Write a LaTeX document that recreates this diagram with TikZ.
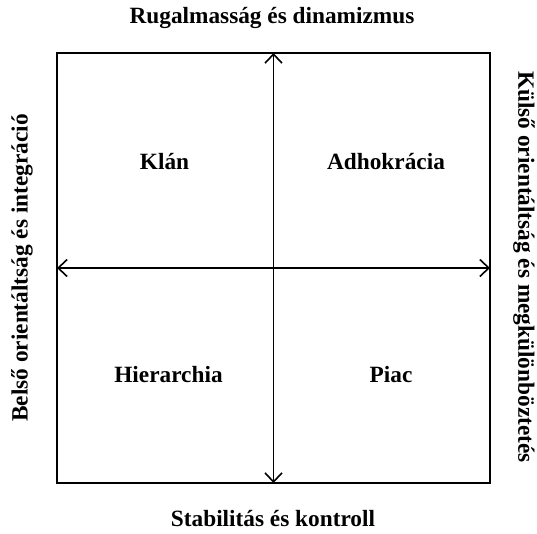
\documentclass[tikz,border=0pt]{standalone}
\usepackage{fontspec}
\setmainfont{Liberation Serif}
\usetikzlibrary{arrows.meta}
\begin{document}
\begin{tikzpicture}[x=1pt,y=-1pt,
  lbl/.style={font=\bfseries\fontsize{23.3}{28}\selectfont, inner sep=0pt},
  frame/.style={draw, line width=1.9pt, minimum width=433pt, minimum height=430pt, outer sep=0pt, inner sep=0pt},
  axis/.style={line width=1.6pt, {Straight Barb[length=9pt,width=17pt]}-{Straight Barb[length=9pt,width=17pt]}}]
  \useasboundingbox (0,0) rectangle (537,533);
  % quadrant frame and the two axes
  \node[frame] (box) at (273.5,268) {};
  \draw[axis] (box.north) -- (box.south);
  \draw[axis] (box.west) -- (box.east);
  % axis captions
  \node[lbl] (top) at (272,18) {Rugalmasság és dinamizmus};
  \node[lbl] (bottom) at (273,519) {Stabilitás és kontroll};
  \node[lbl, rotate=90] (left) at (22,268) {Belső orientáltság és integráció};
  \node[lbl, rotate=-90] (right) at (524,267) {Külső orientáltság és megkülönböztetés};
  % quadrant names
  \node[lbl] (klan) at (164.5,162) {Klán};
  \node[lbl] (adho) at (386,162) {Adhokrácia};
  \node[lbl] (hier) at (168.5,375) {Hierarchia};
  \node[lbl] (piac) at (391,375) {Piac};
\end{tikzpicture}
\end{document}
